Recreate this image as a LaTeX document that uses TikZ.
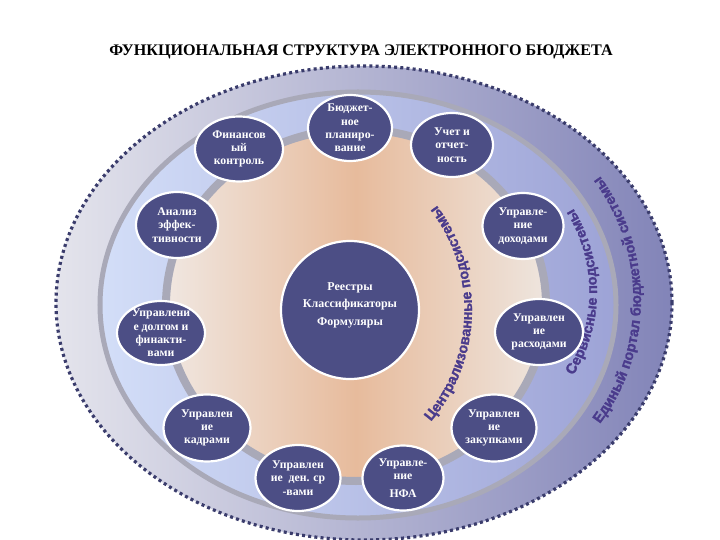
\documentclass[tikz,border=0pt]{standalone}
\usepackage{fontspec}
\setmainfont{Liberation Serif}
\newfontfamily\arcfont{Liberation Sans}[UprightFont=* Bold, FakeBold=1.6]
\usetikzlibrary{decorations.text,shapes.geometric}
\definecolor{nodeblue}{HTML}{4C4E85}
\definecolor{dotcol}{HTML}{3A3C6C}
\definecolor{outL}{HTML}{E4E4EC}
\definecolor{outR}{HTML}{8284B8}
\definecolor{midL}{HTML}{D3DEF8}
\definecolor{midR}{HTML}{9DA3D6}
\definecolor{ringgray}{HTML}{A9A9B8}
\definecolor{beigeL}{HTML}{F0E7E1}
\definecolor{beigeM}{HTML}{E7BB9C}
\definecolor{beigeR}{HTML}{EEE5DE}
\definecolor{arctext}{HTML}{4A3B8C}
\tikzset{
  unit/.style={ellipse, draw=white, line width=2.2bp, fill=nodeblue, inner sep=0pt},
  unittext/.style={text=white, align=center, font=\bfseries\fontsize{11.8}{13.4}\selectfont, inner sep=0pt},
  bigtext/.style={text=white, align=center, font=\bfseries\fontsize{12}{17.5}\selectfont, inner sep=0pt},
  arctxt/.style={font=\arcfont\fontsize{14.5}{14.5}\selectfont, text=arctext},
}
\begin{document}
\begin{tikzpicture}[x=1bp,y=1bp]
\useasboundingbox (0,0) rectangle (720,-540);
\fill[white] (0,0) rectangle (720,-540);
% title
\node (title) at (361,-52) {\bfseries\fontsize{16.2}{18}\selectfont ФУНКЦИОНАЛЬНАЯ СТРУКТУРА ЭЛЕКТРОННОГО БЮДЖЕТА};
% outer ellipse
\shade[left color=outL, right color=outR] (364,-303) ellipse [x radius=308bp, y radius=237bp];
\draw[dotcol, line width=3.2bp, dash pattern=on 3bp off 3.2bp] (364,-303) ellipse [x radius=308bp, y radius=237bp];
% middle band
\shade[left color=midL, right color=midR] (358,-305) ellipse [x radius=258bp, y radius=213bp];
\draw[ringgray, line width=5bp] (358,-305) ellipse [x radius=258bp, y radius=213bp];
% inner beige
\shade[left color=beigeL, right color=beigeR, middle color=beigeM] (356,-305) ellipse [x radius=190bp, y radius=176bp];
\draw[ringgray, line width=8bp] (356,-305) ellipse [x radius=190bp, y radius=176bp];
% curved texts
\path[arctxt, decorate, decoration={text along path, text align=center,
  text={|\arcfont\fontsize{14.5}{14.5}\selectfont\color{arctext}|Централизованные подсистемы}}]
  (300,-310) ++(-44:172bp) arc[start angle=-44, end angle=41, radius=172bp];
\path[arctxt, decorate, decoration={text along path, text align=center,
  text={|\arcfont\fontsize{14.5}{14.5}\selectfont\color{arctext}|Сервисные подсистемы}}]
  (439,-292) ++(-35:158bp) arc[start angle=-35, end angle=35, radius=158bp];
\path[arctxt, decorate, decoration={text along path, text align=center,
  text={|\arcfont\fontsize{14.5}{14.5}\selectfont\color{arctext}|Единый портал бюджетной системы}}]
  (434,-300) ++(-43:207bp) arc[start angle=-43, end angle=43, radius=207bp];
% units
\node[unit, minimum width=88bp, minimum height=65bp] (fin) at (239,-149) {};
\node[unittext] (fin-t) at (fin) {Финансов\\ый\\контроль};
\node[unit, minimum width=84bp, minimum height=66bp] (bud) at (350,-128) {};
\node[unittext] (bud-t) at (bud) {Бюджет-\\ное\\планиро-\\вание};
\node[unit, minimum width=82bp, minimum height=64bp] (uch) at (452,-145) {};
\node[unittext] (uch-t) at (uch) {Учет и\\отчет-\\ность};
\node[unit, minimum width=82bp, minimum height=66bp] (anal) at (177,-225) {};
\node[unittext] (anal-t) at (anal) {Анализ\\эффек-\\тивности};
\node[unit, minimum width=88bp, minimum height=64bp] (dolg) at (161,-333) {};
\node[unittext] (dolg-t) at (dolg) {Управлени\\е долгом и\\финакти-\\вами};
\node[unit, minimum width=87bp, minimum height=67bp] (kadr) at (207,-428) {};
\node[unittext] (kadr-t) at (kadr) {Управлен\\ие\\кадрами};
\node[unit, minimum width=85bp, minimum height=66bp] (den) at (298,-478) {};
\node[unittext] (den-t) at (den) {Управлен\\ие \ ден. ср\\-вами};
\node[unit, minimum width=81bp, minimum height=65bp] (nfa) at (403,-478) {};
\node[unittext] (nfa-t) at (nfa) {Управле-\\ние\\[4bp]НФА};
\node[unit, minimum width=85bp, minimum height=67bp] (zak) at (494,-428) {};
\node[unittext] (zak-t) at (zak) {Управлен\\ие\\закупками};
\node[unit, minimum width=88bp, minimum height=66bp] (rash) at (539,-332) {};
\node[unittext] (rash-t) at (rash) {Управлен\\ие\\расходами};
\node[unit, minimum width=81bp, minimum height=66bp] (doh) at (523,-226) {};
\node[unittext] (doh-t) at (doh) {Управле-\\ние\\доходами};
\node[unit, minimum width=138bp, minimum height=138bp] (core) at (350,-310) {};
\node[bigtext] (core-t) at (350,-305) {Реестры\\Классификаторы\\Формуляры};
\end{tikzpicture}
\end{document}
